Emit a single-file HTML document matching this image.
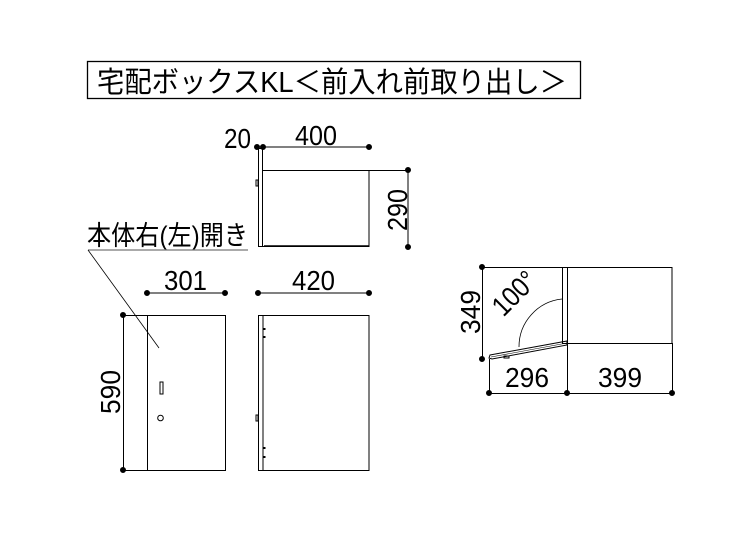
<!DOCTYPE html>
<html><head><meta charset="utf-8"><style>html,body{margin:0;padding:0;background:#fff}svg{display:block}</style></head>
<body>
<svg width="743" height="557" viewBox="0 0 743 557" xmlns="http://www.w3.org/2000/svg" font-family="Liberation Sans, Noto Sans CJK JP, sans-serif" fill="none" stroke="#000" stroke-width="1">
<!-- title -->
<rect x="87.5" y="61.5" width="493" height="37" stroke-width="1.3"/>
<text x="97" y="92" font-size="29" fill="#000" stroke="none" textLength="470" lengthAdjust="spacingAndGlyphs">宅配ボックスKL＜前入れ前取り出し＞</text>

<!-- top view -->
<g>
<line x1="257" y1="147" x2="369" y2="147"/>
<circle cx="257" cy="147" r="2.5" fill="#000"/><circle cx="263" cy="147" r="2.5" fill="#000"/><circle cx="369" cy="147" r="2.5" fill="#000"/>
<rect x="258.5" y="148.5" width="4" height="98"/>
<rect x="262.5" y="170.5" width="106.5" height="76"/>
<line x1="264" y1="246" x2="369" y2="246" stroke-width="1.5"/>
<rect x="256" y="180" width="2" height="6"/>
<line x1="262" y1="170.5" x2="408" y2="170.5"/>
<line x1="408" y1="170" x2="408" y2="247"/>
<circle cx="408" cy="170" r="2.5" fill="#000"/><circle cx="408" cy="247" r="2.5" fill="#000"/>
<g fill="#000" stroke="none" font-size="28">
<text x="224" y="148" textLength="27" lengthAdjust="spacingAndGlyphs">20</text>
<text x="295" y="145" textLength="42" lengthAdjust="spacingAndGlyphs">400</text>
<text transform="translate(407,210) rotate(-90)" text-anchor="middle" textLength="42" lengthAdjust="spacingAndGlyphs">290</text>
</g>
</g>

<!-- label -->
<text x="87" y="245" font-size="27" fill="#000" stroke="none" textLength="161" lengthAdjust="spacingAndGlyphs">本体右(左)開き</text>
<line x1="88" y1="250" x2="248" y2="250" stroke="#777" stroke-width="1.2"/>
<line x1="88" y1="250" x2="159" y2="348" stroke-width="0.8"/>

<!-- front view -->
<g>
<line x1="147" y1="293" x2="225" y2="293"/>
<circle cx="147" cy="293" r="2.5" fill="#000"/><circle cx="225" cy="293" r="2.5" fill="#000"/>
<rect x="147.5" y="315.5" width="78" height="155"/>
<line x1="123" y1="315.5" x2="225" y2="315.5"/>
<line x1="123.5" y1="315" x2="123.5" y2="470"/>
<line x1="123" y1="470.5" x2="147" y2="470.5"/>
<circle cx="123" cy="315" r="2.5" fill="#000"/><circle cx="123" cy="470" r="2.5" fill="#000"/>
<rect x="160" y="382" width="3" height="12"/>
<circle cx="160.5" cy="418" r="2.8"/>
<g fill="#000" stroke="none" font-size="28">
<text x="164" y="290" textLength="43" lengthAdjust="spacingAndGlyphs">301</text>
<text transform="translate(120,392) rotate(-90)" text-anchor="middle" textLength="44" lengthAdjust="spacingAndGlyphs">590</text>
</g>
</g>

<!-- side view -->
<g>
<line x1="258" y1="293" x2="369" y2="293"/>
<circle cx="258" cy="293" r="2.5" fill="#000"/><circle cx="369" cy="293" r="2.5" fill="#000"/>
<line x1="258" y1="315.5" x2="369" y2="315.5"/>
<rect x="258.5" y="315.5" width="4.5" height="155"/>
<rect x="263" y="315.5" width="106" height="155"/>
<rect x="256" y="415" width="2" height="6"/>
<g fill="#000" stroke="none">
<rect x="263" y="328" width="2.5" height="2"/><rect x="263" y="336" width="2.5" height="2"/>
<rect x="263" y="447" width="2.5" height="2"/><rect x="263" y="456" width="2.5" height="2"/>
</g>
<text x="292" y="290" font-size="28" fill="#000" stroke="none" textLength="43" lengthAdjust="spacingAndGlyphs">420</text>
</g>

<!-- open door plan -->
<g>
<line x1="482" y1="267.5" x2="672" y2="267.5"/>
<circle cx="482" cy="267" r="2.5" fill="#000"/>
<line x1="482.5" y1="267" x2="482.5" y2="359"/>
<circle cx="482" cy="359" r="2.5" fill="#000"/>
<rect x="562.5" y="267.5" width="5" height="76"/>
<rect x="567.5" y="267.5" width="104.5" height="76"/>
<line x1="672.5" y1="343" x2="672.5" y2="393"/>
<line x1="489" y1="393.5" x2="672" y2="393.5"/>
<circle cx="489" cy="393" r="2.5" fill="#000"/><circle cx="567" cy="393" r="2.5" fill="#000"/><circle cx="672" cy="393" r="2.5" fill="#000"/>
<line x1="489.5" y1="359" x2="489.5" y2="393"/>
<line x1="567.5" y1="343" x2="567.5" y2="393"/>
<polygon points="490,355 567,341 567,345 492,359 489,358"/>
<line x1="491" y1="357" x2="567" y2="343" stroke-width="0.6"/>
<rect x="504" y="356" width="5" height="2"/>
<path d="M519,347 A48,48 0 0 1 562,299" stroke-width="0.8"/>
<g fill="#000" stroke="none" font-size="28">
<text transform="translate(480,312) rotate(-90)" text-anchor="middle" textLength="44" lengthAdjust="spacingAndGlyphs">349</text>
<text transform="translate(521,300) rotate(-45)" text-anchor="middle" textLength="50" lengthAdjust="spacingAndGlyphs">100°</text>
<text x="505" y="387" textLength="44" lengthAdjust="spacingAndGlyphs">296</text>
<text x="598" y="387" textLength="44" lengthAdjust="spacingAndGlyphs">399</text>
</g>
</g>
</svg>
</body></html>
